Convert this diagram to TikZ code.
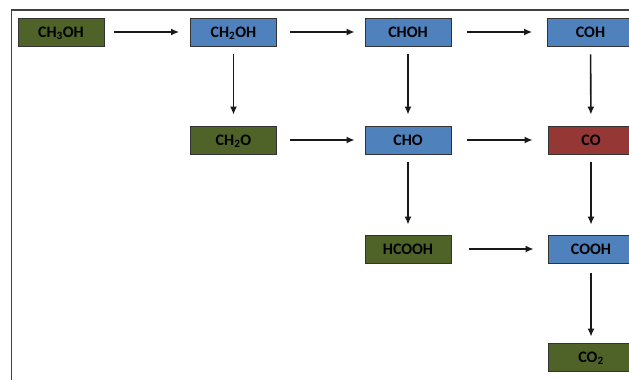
\documentclass[tikz,border=0pt]{standalone}
\usepackage{fontspec}
\setmainfont{Carlito}
\usetikzlibrary{arrows.meta}
\definecolor{boxgreen}{HTML}{4F6228}
\definecolor{boxblue}{HTML}{4F81BD}
\definecolor{boxred}{HTML}{953735}
\definecolor{framegray}{HTML}{404040}
\tikzset{
  species/.style={draw=black!80, line width=0.7pt, minimum width=86pt, minimum height=28pt,
    inner sep=0pt, text height=10.3pt, text depth=0pt,
    font=\bfseries\fontsize{16}{18}\selectfont, text=black},
  green/.style={species, fill=boxgreen},
  blue/.style={species, fill=boxblue},
  red/.style={species, fill=boxred},
  arr/.style={-{Latex[length=8pt,width=7pt]}, line width=1.6pt, black!90},
}
\begin{document}
\begin{tikzpicture}[x=1pt, y=-1pt]
  \useasboundingbox (0,0) rectangle (629,380);
  \clip (0,0) rectangle (629,380);
  % outer frame
  \draw[framegray, line width=1.8pt] (11.5,10) rectangle (700,450);
  % species
  \node[green] (ch3oh) at (61,32) {CH\textsubscript{3}OH};
  \node[blue]  (ch2oh) at (233.5,32) {CH\textsubscript{2}OH};
  \node[blue]  (choh)  at (408,32) {CHOH};
  \node[blue]  (coh)   at (590.5,32) {COH};
  \node[green] (ch2o)  at (233.5,140) {CH\textsubscript{2}O};
  \node[blue]  (cho)   at (408,140) {CHO};
  \node[red]   (co)    at (591,140) {CO};
  \node[green] (hcooh) at (408,249) {HCOOH};
  \node[blue]  (cooh)  at (591,249) {COOH};
  \node[green] (co2)   at (591,357) {CO\textsubscript{2}};
  % horizontal steps
  \draw[arr, shorten <=10pt, shorten >=11pt] (ch3oh) -- (ch2oh);
  \draw[arr, shorten <=13pt, shorten >=10pt] (ch2oh) -- (choh);
  \draw[arr, shorten <=16pt, shorten >=15pt] (choh) -- (coh);
  \draw[arr, shorten <=13pt, shorten >=10pt] (ch2o) -- (cho);
  \draw[arr, shorten <=16pt, shorten >=15pt] (cho) -- (co);
  \draw[arr, shorten <=18pt, shorten >=14pt] (hcooh) -- (cooh);
  % vertical steps
  \draw[arr, shorten <=8pt, shorten >=11pt] (ch2oh) -- (ch2o);
  \draw[arr, shorten <=8pt, shorten >=11pt] (choh) -- (cho);
  \draw[arr, shorten <=8pt, shorten >=11pt] (coh) -- (co);
  \draw[arr, shorten <=8pt, shorten >=10pt] (cho) -- (hcooh);
  \draw[arr, shorten <=8pt, shorten >=10pt] (co) -- (cooh);
  \draw[arr, shorten <=10pt, shorten >=6pt] (cooh) -- (co2);
\end{tikzpicture}
\end{document}
